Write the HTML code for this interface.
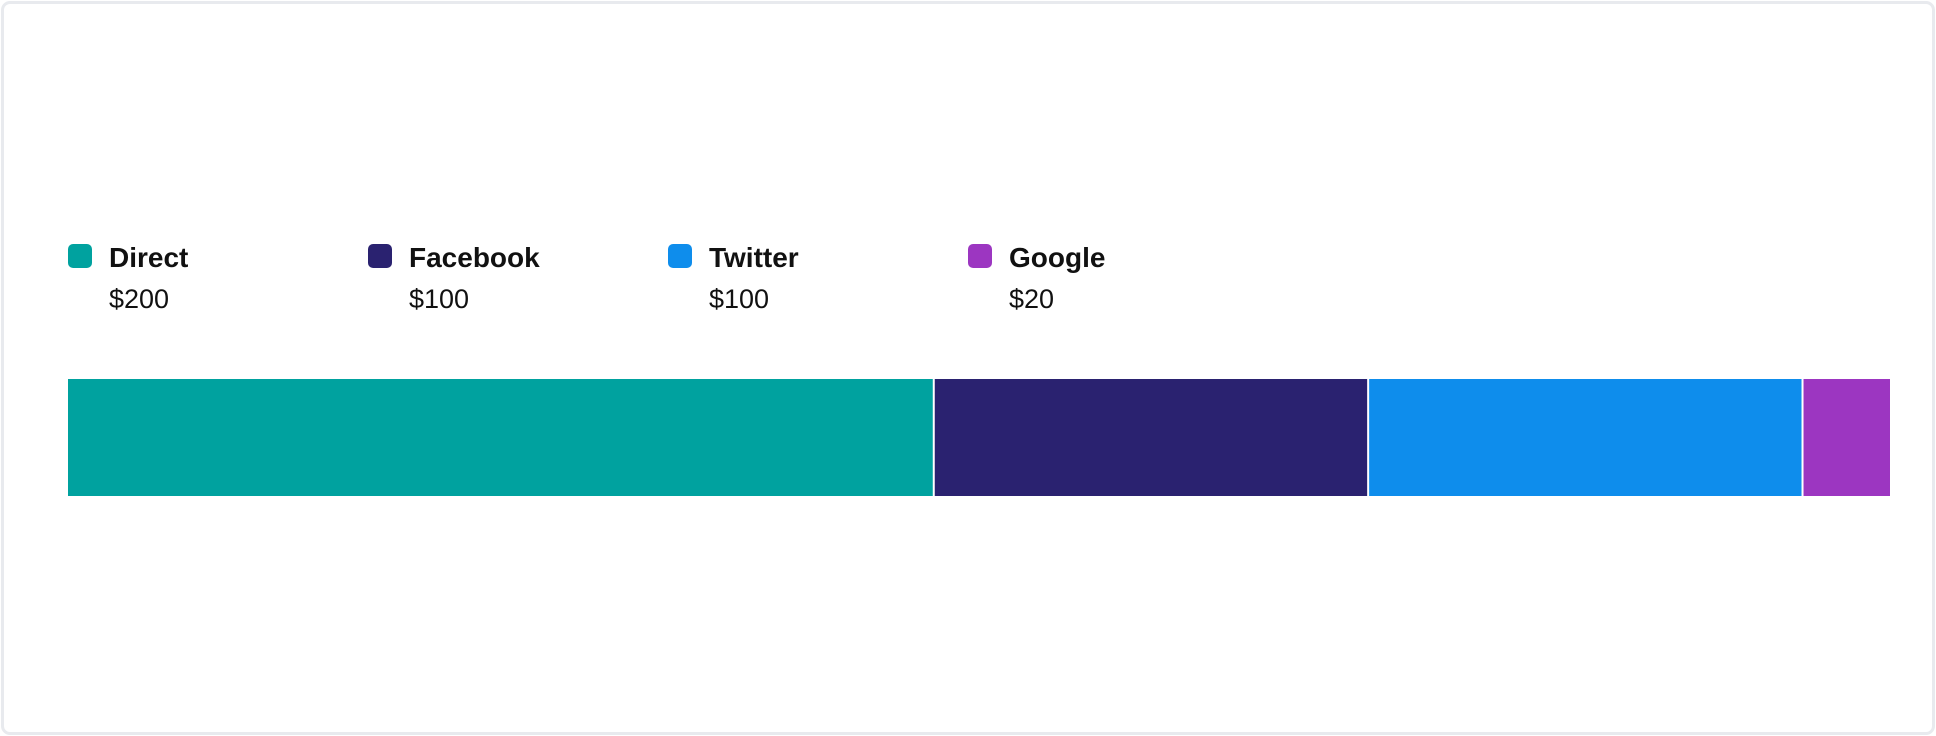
<!DOCTYPE html>
<html><head><meta charset="utf-8"><style>
html,body{margin:0;padding:0;background:#fff;width:1936px;height:736px;overflow:hidden;font-family:"Liberation Sans",sans-serif;}
#card{position:absolute;left:1px;top:1px;width:1928px;height:728px;border:3px solid #e8eaee;border-radius:9px;box-sizing:content-box;}
.leg{position:absolute;top:244px;}
.sw{position:absolute;left:0;top:0;width:24px;height:24px;border-radius:5px;}
.lab{position:absolute;left:41px;top:-2px;font-size:28px;font-weight:bold;color:#111;white-space:nowrap;}
.val{position:absolute;left:41px;top:40px;font-size:27px;color:#111;white-space:nowrap;}
</style></head><body>
<div id="card"></div>
<div id="legend"></div>
<svg id="bar" width="1936" height="736" style="position:absolute;left:0;top:0"></svg>
<script>
const categories=["Direct","Facebook","Twitter","Google"];
const values=[200,100,100,20];
const valueLabels=["$200","$100","$100","$20"];
const colors=["#00a29f","#2a2270","#0e8dec","#9c36c1"];
const x0=68,x1=1890,barTop=379,barH=117,gap=2;
const total=values.reduce((a,b)=>a+b,0);
const avail=(x1-x0)-gap*(values.length-1);
function wScale(v){return (v/total)*avail;}
const svg=document.getElementById('bar');
const ns="http://www.w3.org/2000/svg";
let xpos=x0;
values.forEach((v,i)=>{
  const r=document.createElementNS(ns,'rect');
  const w=wScale(v);
  r.setAttribute('x',xpos);r.setAttribute('y',barTop);
  r.setAttribute('width',w);
  r.setAttribute('height',barH);r.setAttribute('fill',colors[i]);
  
  
  svg.appendChild(r);xpos+=w+gap;
});
const leg=document.getElementById('legend');
categories.forEach((c,i)=>{
  const d=document.createElement('div');d.className='leg';d.style.left=(68+300*i)+'px';
  
  
  d.innerHTML='<div class="sw" style="background:'+colors[i]+'"></div><div class="lab">'+c+'</div><div class="val">'+valueLabels[i]+'</div>';
  leg.appendChild(d);
});
</script>
</body></html>
